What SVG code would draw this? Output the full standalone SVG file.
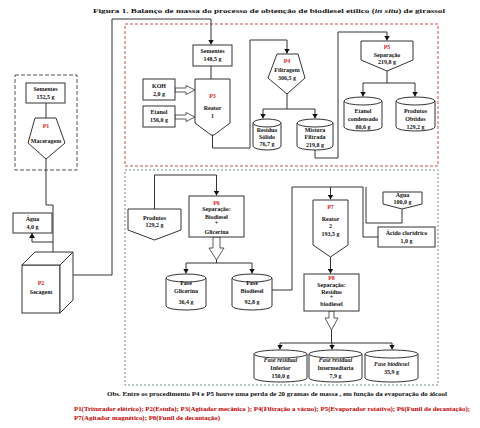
<svg xmlns="http://www.w3.org/2000/svg" width="480" height="428" viewBox="0 0 480 428">
<defs>
<marker id="ah" markerUnits="userSpaceOnUse" markerWidth="6" markerHeight="6" refX="5" refY="3" orient="auto">
<path d="M0 0 L5 3 L0 6 z" fill="#111"/>
</marker>
<style>
text{font-family:"Liberation Serif","Times New Roman",serif;font-weight:bold;fill:#111;text-anchor:middle;font-size:6px}
.r{fill:#d81e1e}
.it{font-style:italic}
.sh{fill:#fff;stroke:#333;stroke-width:1}
.cn{fill:none;stroke:#333;stroke-width:1}
.ar{marker-end:url(#ah)}
.ha{fill:#fff;stroke:#333;stroke-width:0.8}
.leg{fill:#c00000;text-anchor:start;font-size:7px}
</style>
</defs>
<rect width="480" height="428" fill="#fff"/>
<text x="269" y="13" font-size="10.5" textLength="352" lengthAdjust="spacingAndGlyphs">Figura 1. Balanço de massa do processo de obtenção de biodiesel etílico (<tspan class="it">in situ</tspan>) de girassol</text>

<g id="frames" fill="none">
<rect x="125" y="24" width="313" height="142" stroke="#c0504d" stroke-dasharray="3,2" stroke-width="1"/>
<rect x="125" y="170" width="313" height="215" stroke="#6f8f8f" stroke-dasharray="2,2" stroke-width="1"/>
<rect x="15" y="75" width="62" height="95" stroke="#555" stroke-dasharray="4,2" stroke-width="1"/>
</g>

<g id="connectors">
<path class="cn" d="M46 103 V118"/>
<path class="cn" d="M46 159 V205 H53 V252"/>
<path class="cn ar" d="M53 242 H32 V233"/>
<path class="cn ar" d="M73 275 H112 V19 H211 V44.5"/>
<path class="cn" d="M211 66 V79"/>
<path class="cn ar" d="M212.5 135 V148 H250 V40 H287 V53.5"/>
<path class="cn" d="M287 94 V109 M263 109 H315"/>
<path class="cn ar" d="M263 109 V118.5"/>
<path class="cn ar" d="M315 109 V118.5"/>
<path class="cn ar" d="M315 150 V158 H338 V32 H387 V40.5"/>
<path class="cn" d="M387 71 V83 M363 83 H415"/>
<path class="cn ar" d="M363 83 V96.5"/>
<path class="cn ar" d="M415 83 V96.5"/>
<path class="cn ar" d="M154.5 209 V175 H216.5 V195.5"/>
<path class="cn" d="M216.5 260 V263 M186 263 H252"/>
<path class="cn ar" d="M186 263 V273.5"/>
<path class="cn ar" d="M252 263 V273.5"/>
<path class="cn" d="M272 290 H292 V187 H363 V237 H378"/>
<path class="cn ar" d="M330.5 187 V199.5"/>
<path class="cn" d="M366 187 V223 H402 V209"/>
<path class="cn ar" d="M330.5 257 V273.5"/>
<path class="cn" d="M331.5 330 V343 M280 343 H392"/>
<path class="cn ar" d="M280 343 V349.5"/>
<path class="cn ar" d="M332 343 V349.5"/>
<path class="cn ar" d="M392 343 V349.5"/>
<polygon class="ha" points="175,88 186,88 186,85.5 195,90 186,94.5 186,92 175,92"/>
<polygon class="ha" points="175,115 186,115 186,112.5 195,117 186,121.5 186,119 175,119"/>
<polygon class="ha" points="213,237 220,237 220,248 224,248 216.5,260 209,248 213,248"/>
<polygon class="ha" points="329,311 334,311 334,318 338,318 331.5,330 325,318 329,318"/>
</g>

<g id="sementes1">
<rect class="sh" x="26" y="83" width="39" height="20"/>
<text x="45.5" y="91">Sementes</text><text x="45.5" y="99">152,5 g</text>
</g>
<g id="p1">
<polygon class="sh" points="35,118 56,118 65,143 46,159 28,143"/>
<text class="r" x="46" y="128">P1</text><text x="46" y="143">Maceragem</text>
</g>
<g id="agua4">
<rect class="sh" x="13" y="213" width="39" height="20"/>
<text x="32.5" y="221">Água</text><text x="32.5" y="229">4,0 g</text>
</g>
<g id="p2">
<rect class="sh" x="22" y="265" width="38" height="48"/>
<polygon class="sh" points="22,265 35,252 73,252 60,265"/>
<polygon class="sh" points="60,265 73,252 73,300 60,313"/>
<text class="r" x="41" y="285">P2</text><text x="41" y="294">Secagem</text>
</g>
<g id="sementes2">
<rect class="sh" x="193" y="45" width="39" height="21"/>
<text x="212.5" y="53">Sementes</text><text x="212.5" y="61">148,5 g</text>
</g>
<g id="koh">
<rect class="sh" x="143" y="79" width="32" height="21"/>
<text x="159" y="88">KOH</text><text x="159" y="96">2,0 g</text>
</g>
<g id="etanol">
<rect class="sh" x="143" y="106" width="32" height="21"/>
<text x="159" y="114">Etanol</text><text x="159" y="122">156,0 g</text>
</g>
<g id="p3">
<polygon class="sh" points="195,79 230,79 230,123 214,135 211,135 195,123"/>
<text class="r" x="212.5" y="98">P3</text><text x="212.5" y="110">Reator</text><text x="212.5" y="118">1</text>
</g>
<g id="p4">
<polygon class="sh" points="277,54 298,54 305,78 287,94 268,78"/>
<text class="r" x="287" y="63">P4</text><text x="287" y="72">Filtragem</text><text x="287" y="80">306,5 g</text>
</g>
<g id="residuo">
<path class="sh" d="M253 123 V146 A14 4 0 0 0 281 146 V123"/>
<ellipse class="sh" cx="267" cy="123" rx="14" ry="4"/>
<text x="267" y="132">Resíduo</text><text x="267" y="139">Sólido</text><text x="267" y="146">76,7 g</text>
</g>
<g id="mistura">
<path class="sh" d="M297 123 V146 A18 4 0 0 0 333 146 V123"/>
<ellipse class="sh" cx="315" cy="123" rx="18" ry="4"/>
<text x="315" y="132">Mistura</text><text x="315" y="139">Filtrada</text><text x="315" y="147">219,8 g</text>
</g>
<g id="p5">
<polygon class="sh" points="361,41 413,41 413,60 387,71 361,60"/>
<text class="r" x="387" y="49">P5</text><text x="387" y="57">Separação</text><text x="387" y="64">219,8 g</text>
</g>
<g id="etanolcond">
<path class="sh" d="M344 101 V127 A19 4 0 0 0 382 127 V101"/>
<ellipse class="sh" cx="363" cy="101" rx="19" ry="4"/>
<text x="363" y="113">Etanol</text><text x="363" y="121">condensado</text><text x="363" y="129">80,6 g</text>
</g>
<g id="produtosobt">
<path class="sh" d="M396 101 V127 A19.5 4 0 0 0 435 127 V101"/>
<ellipse class="sh" cx="415.5" cy="101" rx="19.5" ry="4"/>
<text x="415.5" y="113">Produtos</text><text x="415.5" y="121">Obtidos</text><text x="415.5" y="129">129,2 g</text>
</g>
<g id="produtos">
<polygon class="sh" points="128,209 181,209 181,230 154.5,240 128,230"/>
<text x="154.5" y="220">Produtos</text><text x="154.5" y="227">129,2 g</text>
</g>
<g id="p6">
<rect class="sh" x="189" y="196" width="55" height="41"/>
<text class="r" x="216.5" y="205">P6</text><text x="216.5" y="211">Separação:</text><text x="216.5" y="219">Biodiesel</text><text x="216.5" y="225">+</text><text x="216.5" y="234">Glicerina</text>
</g>
<g id="glicerina">
<path class="sh" d="M166 278 V306 A20 4 0 0 0 206 306 V278"/>
<ellipse class="sh" cx="186" cy="278" rx="20" ry="4"/>
<text x="186" y="285">Fase</text><text x="186" y="293">Glicerina</text><text x="186" y="304">36,4 g</text>
</g>
<g id="biodiesel">
<path class="sh" d="M232 278 V306 A20 4 0 0 0 272 306 V278"/>
<ellipse class="sh" cx="252" cy="278" rx="20" ry="4"/>
<text x="252" y="285">Fase</text><text x="252" y="293">Biodiesel</text><text x="252" y="304">92,8 g</text>
</g>
<g id="agua100">
<polygon class="sh" points="383,192 422,192 422,204 402,209 383,204"/>
<text x="402.5" y="197">Água</text><text x="402.5" y="204">100,0 g</text>
</g>
<g id="acido">
<rect class="sh" x="378" y="227" width="57" height="20"/>
<text x="406.5" y="235">Ácido clorídrico</text><text x="406.5" y="243">1,0 g</text>
</g>
<g id="p7">
<polygon class="sh" points="313,200 348,200 348,245 330.5,257 313,245"/>
<text class="r" x="330.5" y="209">P7</text><text x="330.5" y="221">Reator</text><text x="330.5" y="228">2</text><text x="330.5" y="236">193,5 g</text>
</g>
<g id="p8">
<rect class="sh" x="304" y="274" width="55" height="37"/>
<text class="r" x="331.5" y="280">P8</text><text x="331.5" y="287">Separação:</text><text x="331.5" y="294">Resíduo</text><text x="331.5" y="299">+</text><text x="331.5" y="306">biodiesel</text>
</g>
<g id="inferior">
<path class="sh" d="M254 354 V378 A26.5 4 0 0 0 307 378 V354"/>
<ellipse class="sh" cx="280.5" cy="354" rx="26.5" ry="4"/>
<text class="it" x="280.5" y="362">Fase residual</text><text x="280.5" y="370">Inferior</text><text x="280.5" y="378">150,0 g</text>
</g>
<g id="intermediaria">
<path class="sh" d="M309 354 V378 A26.5 4 0 0 0 362 378 V354"/>
<ellipse class="sh" cx="335.5" cy="354" rx="26.5" ry="4"/>
<text class="it" x="335.5" y="362">Fase residual</text><text x="335.5" y="370">Intermediaria</text><text x="335.5" y="378">7,9 g</text>
</g>
<g id="fasebiodiesel">
<path class="sh" d="M365 354 V378 A26.5 4 0 0 0 418 378 V354"/>
<ellipse class="sh" cx="391.5" cy="354" rx="26.5" ry="4"/>
<text class="it" x="391.5" y="366">Fase biodiesel</text><text x="391.5" y="374">35,9 g</text>
</g>

<text x="277" y="396" font-size="7.5" textLength="340" lengthAdjust="spacingAndGlyphs">Obs.  Entre os procedimento P4 e P5 houve uma perda de 20 gramas de massa , em função da evaporação do álcool</text>
<text class="leg" x="74" y="411" textLength="396" lengthAdjust="spacingAndGlyphs">P1(Triturador elétrico); P2(Estufa); P3(Agitador mecânico ); P4(Filtração a vácuo); P5(Evaporador rotativo); P6(Funil de decantação);</text>
<text class="leg" x="74" y="420" textLength="146" lengthAdjust="spacingAndGlyphs">P7(Agitador magnético); P8(Funil de decantação)</text>
</svg>
